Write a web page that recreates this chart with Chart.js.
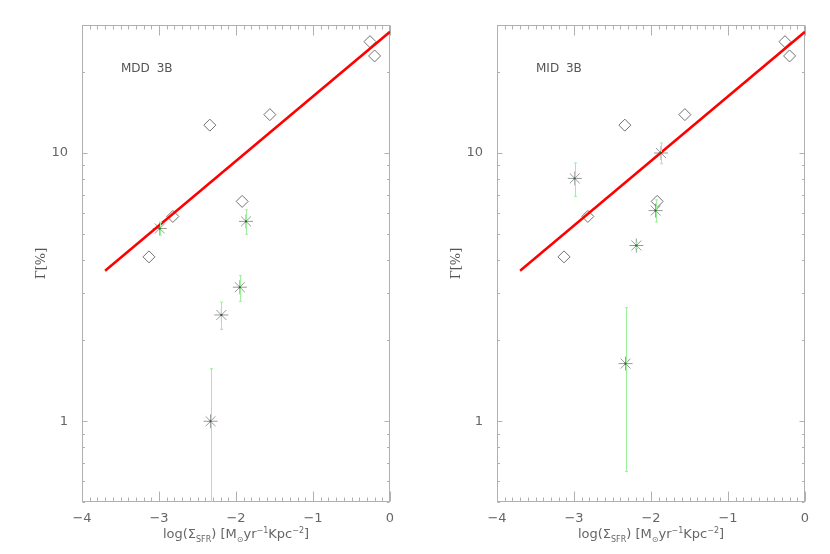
<!DOCTYPE html>
<html>
<head>
<meta charset="utf-8">
<script src="https://cdn.jsdelivr.net/npm/chart.js@4.4.1/dist/chart.umd.min.js"></script>
<style>
  body { margin:0; background:#fff; width:830px; height:554px; position:relative; overflow:hidden; font-family:"DejaVu Sans", sans-serif; }
  .panel { position:absolute; top:0; width:415px; height:554px; }
  .lbl { position:absolute; top:61px; font-size:12px; white-space:pre; word-spacing:3px; color:#555; }
  .xt { position:absolute; top:526px; font-size:13px; transform:translateX(-50%); white-space:nowrap; color:#666; }
  sub, sup { font-size:8px; line-height:0; }
</style>
</head>
<body>
<div class="panel" style="left:0"><canvas id="c1" width="415" height="554"></canvas></div>
<div class="panel" style="left:415px"><canvas id="c2" width="415" height="554"></canvas></div>
<div class="lbl" style="left:121px">MDD 3B</div>
<div class="lbl" style="left:536px">MID 3B</div>
<div class="xt" style="left:236px">log(Σ<sub>SFR</sub>) [M<sub>⊙</sub>yr<sup>−1</sup>Kpc<sup>−2</sup>]</div>
<div class="xt" style="left:651px">log(Σ<sub>SFR</sub>) [M<sub>⊙</sub>yr<sup>−1</sup>Kpc<sup>−2</sup>]</div>
<script>
// diamonds (same in both panels)
const diaX = [-3.13, -2.82, -2.34, -1.92, -1.56, -0.26, -0.20];
const diaY = [4.1, 5.8, 12.7, 6.6, 13.9, 26.0, 23.0];

// asterisks with error bars, MDD 3B
const mddX  = [-2.99, -2.19, -1.95, -1.87, -2.33];
const mddY  = [5.23, 2.49, 3.16, 5.56, 1.0];
const mddLo = [4.94, 2.20, 2.80, 4.98, 0.3];
const mddHi = [5.51, 2.78, 3.49, 6.14, 1.57];

// asterisks with error bars, MID 3B
const midX  = [-2.99, -2.19, -1.94, -1.87, -2.33];
const midY  = [8.04, 4.52, 6.1, 10.0, 1.64];
const midLo = [6.89, 4.40, 5.53, 9.12, 0.65];
const midHi = [9.18, 4.65, 6.69, 10.9, 2.65];

// red fit line
const fitX = [-3.7, 0];
const fitY = [3.64, 28.3];

// axis ticks
const xMajor = [-4, -3, -2, -1, 0];
const yLabelTicks = [1, 10];
const yMinorTicks = [0.5, 0.6, 0.7, 0.8, 0.9, 2, 3, 4, 5, 6, 7, 8, 9, 20, 30];

const pts = (xs, ys) => xs.map((x, i) => ({ x, y: ys[i] }));
const minus = v => v < 0 ? '\u2212' + Math.abs(v) : String(v);

const framePlugin = {
  id: 'frame',
  beforeDatasetsDraw(chart) {
    const { ctx, chartArea: a, scales } = chart;
    const L = a.left + 0.5, R = a.right - 0.5, T = a.top + 0.5, B = a.bottom - 0.5;
    ctx.save();
    ctx.strokeStyle = '#b0b0b0';
    ctx.lineWidth = 1;
    ctx.strokeRect(L, T, R - L, B - T);
    ctx.beginPath();
    for (let i = 0; i <= 40; i++) {
      const v = -4 + i / 10;
      const px = Math.round(scales.x.getPixelForValue(v)) + 0.5;
      const len = i % 10 === 0 ? 10 : 4;
      ctx.moveTo(px, B); ctx.lineTo(px, B - len);
      ctx.moveTo(px, T); ctx.lineTo(px, T + len);
    }
    const yt = yLabelTicks.map(v => [v, 5]).concat(yMinorTicks.map(v => [v, 2.5]));
    yt.forEach(([v, len]) => {
      const py = Math.round(scales.y.getPixelForValue(v)) + 0.5;
      ctx.moveTo(L, py); ctx.lineTo(L + len, py);
      ctx.moveTo(R, py); ctx.lineTo(R - len, py);
    });
    ctx.stroke();
    ctx.restore();
  }
};

const errPlugin = {
  id: 'errbars',
  afterDatasetsDraw(chart) {
    const { ctx, chartArea: a, scales } = chart;
    const ds = chart.data.datasets[2];
    ctx.save();
    ctx.beginPath();
    ctx.rect(a.left, a.top, a.right - a.left, a.bottom - a.top);
    ctx.clip();
    ctx.strokeStyle = '#9bf09b';
    ctx.lineWidth = 1;
    ds.data.forEach((p, i) => {
      const px = Math.round(scales.x.getPixelForValue(p.x)) + 0.5;
      const y1 = scales.y.getPixelForValue(ds.errLo[i]);
      const y2 = scales.y.getPixelForValue(ds.errHi[i]);
      ctx.beginPath();
      ctx.moveTo(px, y1); ctx.lineTo(px, y2);
      ctx.moveTo(px - 1.5, y1); ctx.lineTo(px + 1.5, y1);
      ctx.moveTo(px - 1.5, y2); ctx.lineTo(px + 1.5, y2);
      ctx.stroke();
    });
    ctx.fillStyle = '#2e5e2e';
    ds.data.forEach(p => {
      const px = scales.x.getPixelForValue(p.x);
      const py = scales.y.getPixelForValue(p.y);
      ctx.fillRect(px - 1, py - 1, 2, 2);
    });
    ctx.restore();
  }
};

function makePanel(id, sx, sy, lo, hi) {
  return new Chart(document.getElementById(id), {
    type: 'scatter',
    data: {
      datasets: [
        { type: 'line', data: pts(fitX, fitY), borderColor: '#ff0000', borderWidth: 2.5, pointRadius: 0, order: 0 },
        { data: pts(diaX, diaY), pointStyle: 'rectRot', pointRadius: 6, borderColor: '#707070', borderWidth: 1, backgroundColor: 'rgba(0,0,0,0)', order: 1 },
        { data: pts(sx, sy), errLo: lo, errHi: hi, pointStyle: 'star', pointRadius: 7, borderColor: '#999999', borderWidth: 1, order: 2 }
      ]
    },
    options: {
      responsive: false,
      animation: false,
      devicePixelRatio: 1,
      layout: { padding: { left: 30, top: 25, right: 25, bottom: 0 } },
      plugins: { legend: { display: false }, tooltip: { enabled: false } },
      scales: {
        x: {
          type: 'linear', min: -4, max: 0,
          afterBuildTicks: s => { s.ticks = xMajor.map(v => ({ value: v })); },
          ticks: { callback: v => minus(v), font: { family: 'DejaVu Sans', size: 13 }, color: '#666', padding: 1, maxRotation: 0 },
          grid: { display: false }, border: { display: false },
          afterFit: s => { s.height = 52; }
        },
        y: {
          type: 'logarithmic', min: 0.5, max: 30,
          afterBuildTicks: s => { s.ticks = yLabelTicks.map(v => ({ value: v })); },
          ticks: { callback: v => String(v), font: { family: 'DejaVu Sans', size: 13 }, color: '#666', padding: 6 },
          grid: { display: false }, border: { display: false },
          title: { display: true, text: 'Γ[%]', font: { family: 'DejaVu Serif', size: 13 }, color: '#555', padding: { top: 4, bottom: 0 } },
          afterFit: s => { s.width = 52; }
        }
      }
    },
    plugins: [framePlugin, errPlugin]
  });
}

makePanel('c1', mddX, mddY, mddLo, mddHi);
makePanel('c2', midX, midY, midLo, midHi);
</script>
</body>
</html>
